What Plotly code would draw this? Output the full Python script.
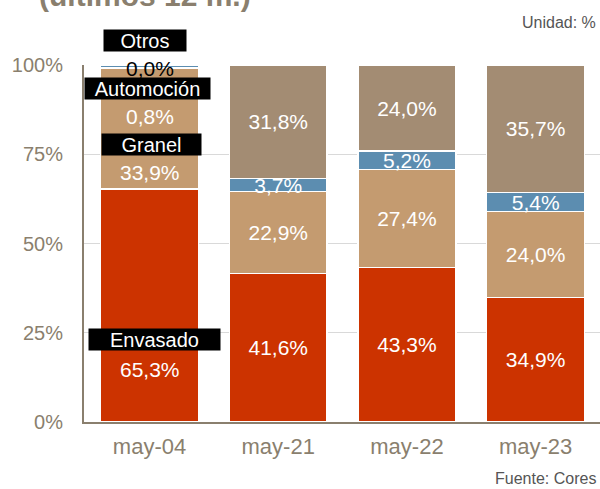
import plotly.graph_objects as go

CATEGORIAS = ['may-04', 'may-21', 'may-22', 'may-23']

ENVASADO = [65.3, 41.6, 43.3, 34.9]
GRANEL = [33.9, 22.9, 27.4, 24.0]
AUTOMOCION = [0.8, 3.7, 5.2, 5.4]
OTROS = [0.0, 31.8, 24.0, 35.7]

Y_TICKS = [0, 25, 50, 75, 100]
Y_TICK_LABELS = ['0%', '25%', '50%', '75%', '100%']

SERIES = [
    ('Envasado', ENVASADO, '#CC3300'),
    ('Granel', GRANEL, '#C49B70'),
    ('Automoción', AUTOMOCION, '#5C8DB0'),
    ('Otros', OTROS, '#A38C73'),
]

GRIS = '#8A7F6E'
FONT = 'Liberation Sans, Arial, sans-serif'


def fmt(v):
    return f'{v:.1f}'.replace('.', ',') + '%'


fig = go.Figure()
for name, vals, color in SERIES:
    # first bar gets its labels from annotations, like the original
    texts = [''] + [fmt(v) for v in vals[1:]]
    fig.add_trace(go.Bar(x=CATEGORIAS, y=vals, name=name,
                         marker=dict(color=color, line=dict(color='white', width=1.5)),
                         text=texts, textposition='inside', insidetextanchor='middle',
                         textangle=0, constraintext='none',
                         textfont=dict(color='white', size=21, family=FONT)))

annotations = []
# black name boxes on the first bar
for texto, y, ys, w, xs in [('Otros', 100, 25, 80, -5), ('Automoción', 93.4, 0, 123, -2),
                            ('Granel', 77.6, 0, 97, 2), ('Envasado', 23.0, 0, 129, 5)]:
    annotations.append(dict(x=CATEGORIAS[0], y=y, yshift=ys, text=texto, showarrow=False,
                            xshift=xs, width=w, height=19, bgcolor='black',
                            font=dict(color='white', size=20, family=FONT)))
# value labels on the first bar
for v, y, col in [(OTROS[0], 99.1, 'black'), (AUTOMOCION[0], 85.7, 'white'),
                  (GRANEL[0], 70.0, 'white'), (ENVASADO[0], 14.7, 'white')]:
    annotations.append(dict(x=CATEGORIAS[0], y=y, text=fmt(v), showarrow=False,
                            font=dict(color=col, size=21, family=FONT)))

annotations += [
    dict(xref='paper', yref='paper', x=-0.092, y=1.143, xanchor='left', yanchor='bottom',
         text='<b>(últimos 12 m.)</b>', showarrow=False,
         font=dict(color=GRIS, size=30, family=FONT)),
    dict(xref='paper', yref='paper', x=0.996, y=1.12, xanchor='right', yanchor='middle',
         text='Unidad: %', showarrow=False, font=dict(color='#555555', size=16, family=FONT)),
    dict(xref='paper', yref='paper', x=0.996, y=-0.157, xanchor='right', yanchor='middle',
         text='Fuente: Cores', showarrow=False, font=dict(color='#555555', size=16, family=FONT)),
]

fig.update_layout(
    width=600, height=489,
    barmode='stack', bargap=0.24,
    showlegend=False,
    plot_bgcolor='white', paper_bgcolor='white',
    margin=dict(l=84, r=0, t=65, b=67),
    font=dict(family=FONT, color=GRIS),
    uniformtext=dict(minsize=21, mode='show'),
    annotations=annotations,
)
fig.update_yaxes(range=[0, 100], tickvals=Y_TICKS, ticktext=Y_TICK_LABELS,
                 tickfont=dict(size=20, color=GRIS), showgrid=True, gridcolor='#D9D9D9',
                 showline=True, linecolor=GRIS, linewidth=2, ticks='', ticklabelstandoff=15,
                 zeroline=False)
fig.update_xaxes(tickfont=dict(size=22, color=GRIS), showline=True, linecolor=GRIS,
                 linewidth=2, ticklabelstandoff=4)

fig.write_html("out.html", config={'displayModeBar': False},
               post_script="document.body.style.margin='0';")
